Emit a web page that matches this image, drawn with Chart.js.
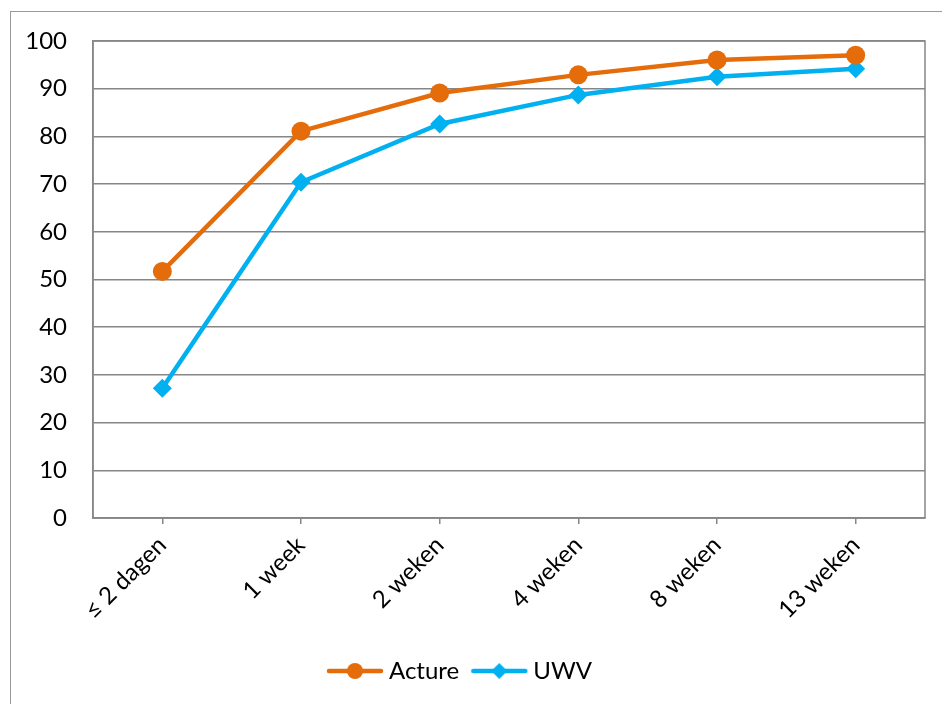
<!DOCTYPE html>
<html>
<head>
<meta charset="utf-8">
<script src="https://cdn.jsdelivr.net/npm/chart.js@4/dist/chart.umd.min.js"></script>
<style>
  html, body { margin: 0; padding: 0; background: #fff; }
  #wrap { position: relative; width: 942px; height: 704px; overflow: hidden; }
  #frame { position: absolute; left: 10px; top: 11px; width: 1000px; height: 800px;
           border: 1px solid #9a9a9a; box-sizing: border-box; }
  canvas { position: absolute; left: 0; top: 0; }
</style>
</head>
<body>
<div id="wrap">
  <div id="frame"></div>
  <canvas id="lineChart" width="942" height="704"></canvas>
</div>
<script>
// data
var categories = ["\u2264 2 dagen", "1 week", "2 weken", "4 weken", "8 weken", "13 weken"];
var actureValues = [51.7, 81.1, 89.1, 92.9, 96.0, 97.0];
var uwvValues = [27.2, 70.4, 82.6, 88.7, 92.5, 94.2];

var orange = "#E46C0A";
var blue = "#00B0F0";
var fontFamily = "Lato, 'Open Sans', sans-serif";

// legend swatch: line with marker in the middle
function legendIcon(color, shape) {
    var c = document.createElement("canvas");
    c.width = 58;
    c.height = 20;
    var g = c.getContext("2d");
    g.strokeStyle = color;
    g.lineWidth = 4.5;
    g.lineCap = "round";
    g.beginPath();
    g.moveTo(3, 10);
    g.lineTo(55, 10);
    g.stroke();
    g.fillStyle = color;
    g.beginPath();
    if (shape === "circle") {
        g.arc(29, 10, 8, 0, Math.PI * 2);
    } else {
        g.moveTo(29, 2);
        g.lineTo(37, 10);
        g.lineTo(29, 18);
        g.lineTo(21, 10);
        g.closePath();
    }
    g.fill();
    return c;
}

// box around the plot area
var plotBorder = {
    id: "plotBorder",
    afterDraw: function (chart) {
        var a = chart.chartArea;
        var ctx = chart.ctx;
        ctx.save();
        ctx.strokeStyle = "#868686";
        ctx.lineWidth = 1.5;
        ctx.strokeRect(a.left, a.top, a.right - a.left, a.bottom - a.top);
        ctx.restore();
    }
};

var icons = [legendIcon(orange, "circle"), legendIcon(blue, "diamond")];

var ctx_line = document.getElementById("lineChart");
var myLineGraph = new Chart(ctx_line, {
    type: "line",
    data: {
        labels: categories,
        datasets: [
            {
                label: "Acture",
                data: actureValues,
                borderColor: orange,
                backgroundColor: orange,
                borderWidth: 4.5,
                pointStyle: "circle",
                pointRadius: 9.5,
                pointBorderWidth: 0,
                tension: 0
            },
            {
                label: "UWV",
                data: uwvValues,
                borderColor: blue,
                backgroundColor: blue,
                borderWidth: 4.5,
                pointStyle: "rectRot",
                pointRadius: 9.5,
                pointBorderWidth: 0,
                tension: 0
            }
        ]
    },
    options: {
        responsive: false,
        animation: false,
        devicePixelRatio: 1,
        layout: { padding: { left: 0, right: 17, top: 41, bottom: 11 } },
        scales: {
            x: {
                offset: true,
                grid: { display: true, drawOnChartArea: false, drawTicks: true, tickLength: 6, color: "#868686", lineWidth: 1.5 },
                border: { display: true, color: "#868686", width: 1.5 },
                ticks: {
                    color: "#000",
                    font: { family: fontFamily, size: 24 },
                    minRotation: 45,
                    maxRotation: 45,
                    padding: 7
                },
                afterFit: function (scale) { scale.height = 123; }
            },
            y: {
                min: 0,
                max: 100,
                grid: { color: "#868686", lineWidth: 1.5, drawTicks: false },
                border: { display: true, color: "#868686", width: 1.5 },
                ticks: {
                    stepSize: 10,
                    color: "#000",
                    font: { family: fontFamily, size: 24 },
                    padding: 26
                },
                afterFit: function (scale) { scale.width = 93; }
            }
        },
        plugins: {
            legend: {
                position: "bottom",
                labels: {
                    usePointStyle: true,
                    pointStyleWidth: 44,
                    boxHeight: 20,
                    color: "#000",
                    font: { family: fontFamily, size: 24 },
                    padding: 18,
                    generateLabels: function (chart) {
                        return chart.data.datasets.map(function (ds, i) {
                            return {
                                text: ds.label,
                                pointStyle: icons[i],
                                fillStyle: ds.borderColor,
                                strokeStyle: ds.borderColor,
                                lineWidth: 0,
                                hidden: false,
                                datasetIndex: i
                            };
                        });
                    }
                }
            },
            tooltip: { enabled: false }
        }
    },
    plugins: [plotBorder]
});
</script>
</body>
</html>
